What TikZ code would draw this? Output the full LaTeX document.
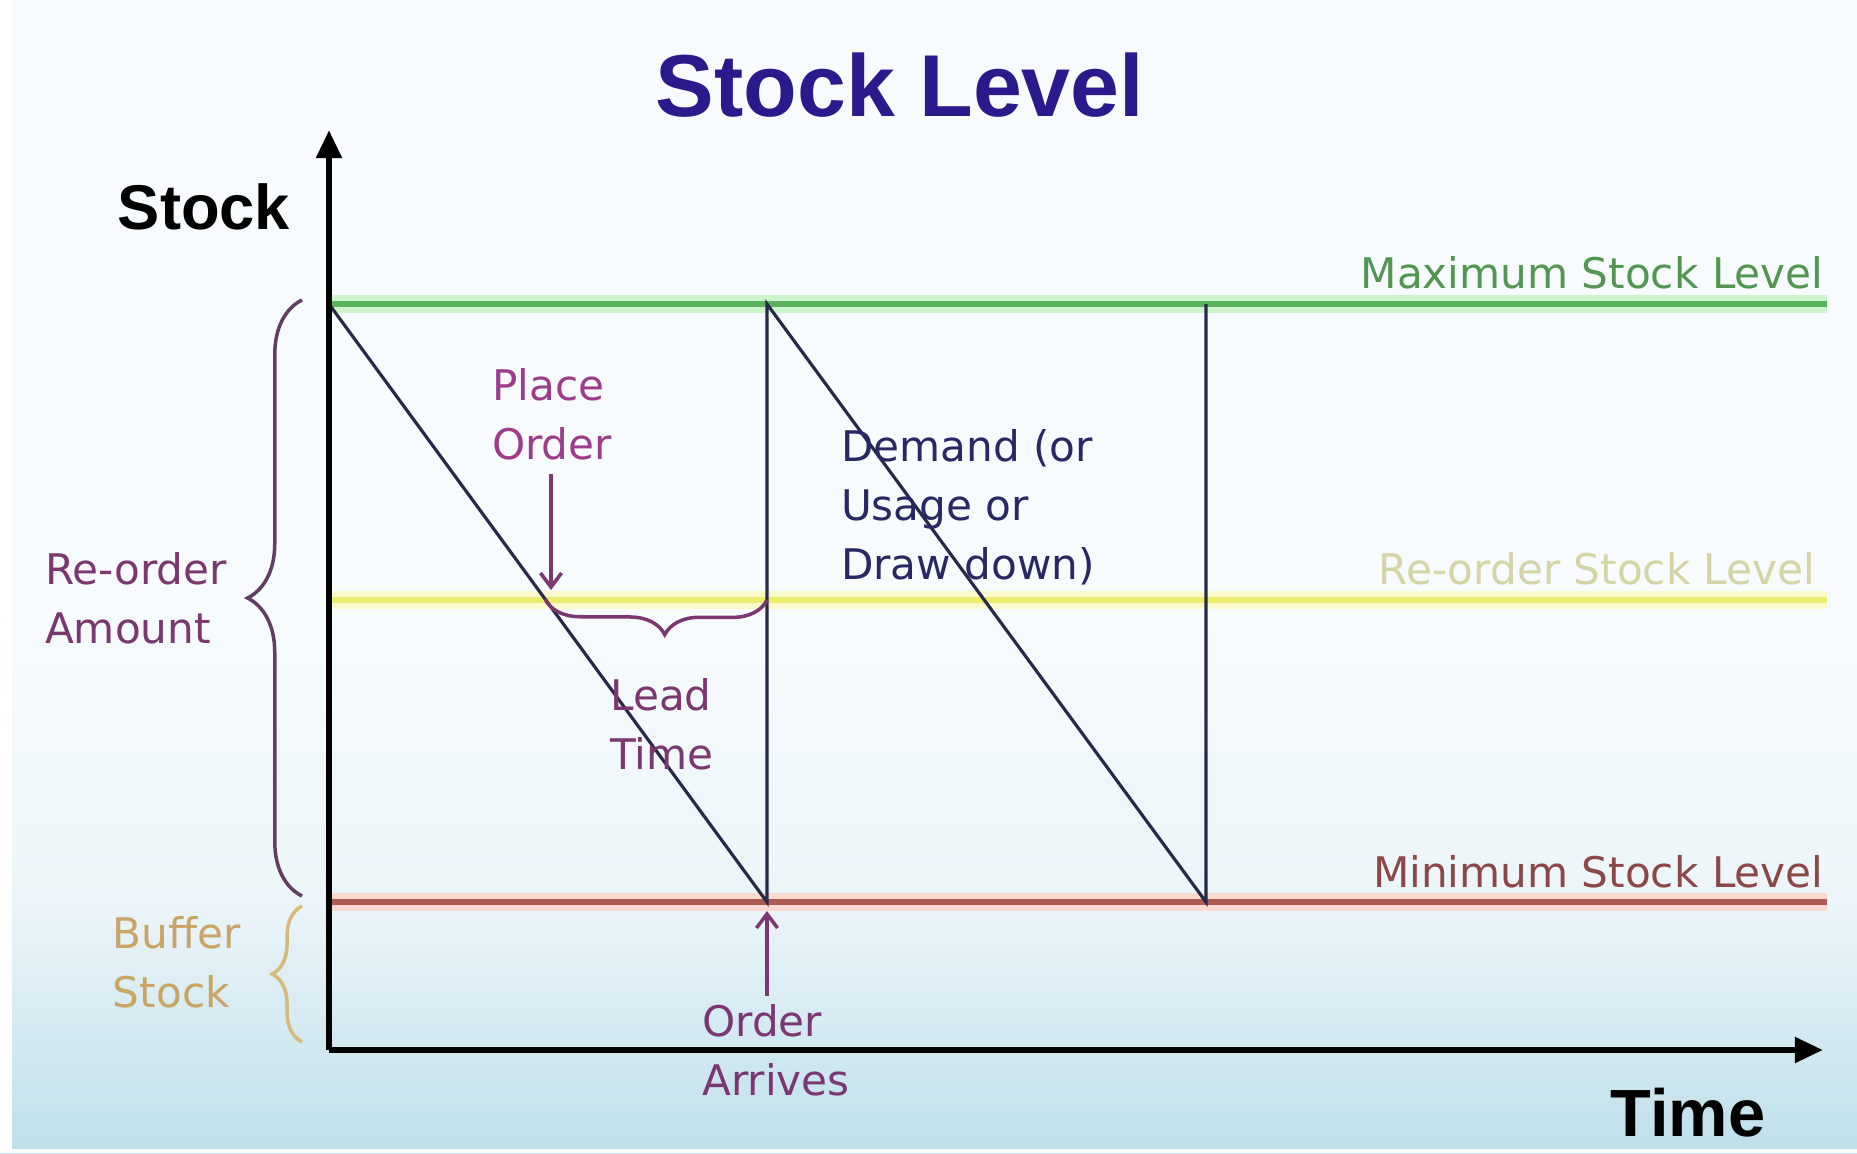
\documentclass[tikz,border=0pt]{standalone}
\usepackage{fontspec}
\setmainfont{DejaVu Sans}
\newfontfamily\headfam{Liberation Sans}
\usetikzlibrary{arrows.meta,decorations.pathreplacing,calc}
\definecolor{bgtop}{RGB}{247,251,253}
\definecolor{bgmid}{RGB}{236,245,249}
\definecolor{bgbot}{RGB}{190,223,234}
\definecolor{titleblue}{RGB}{43,26,140}
\definecolor{maxtext}{RGB}{82,150,82}
\definecolor{maxline}{RGB}{92,178,92}
\definecolor{maxglow}{RGB}{205,245,205}
\definecolor{reotext}{RGB}{212,212,165}
\definecolor{reoline}{RGB}{236,236,110}
\definecolor{reoglow}{RGB}{250,250,205}
\definecolor{mintext}{RGB}{140,72,72}
\definecolor{minline}{RGB}{172,92,82}
\definecolor{minglow}{RGB}{250,218,208}
\definecolor{placepurple}{RGB}{158,60,140}
\definecolor{darkpurple}{RGB}{122,55,112}
\definecolor{navytext}{RGB}{40,40,100}
\definecolor{buffertan}{RGB}{200,165,100}
\definecolor{bracepurple}{RGB}{98,62,98}
\definecolor{bracetan}{RGB}{215,185,120}
\definecolor{sawcol}{RGB}{40,40,72}
\tikzset{
  lbl/.style={font=\fontsize{12pt}{16.8pt}\selectfont, align=left, inner sep=0pt},
  headlbl/.style={font=\headfam\bfseries, inner sep=0pt},
  axisline/.style={line width=1.8pt, black},
  sawline/.style={line width=0.9pt, sawcol},
  glowline/.style={line width=5pt},
  levelline/.style={line width=1.7pt},
  purplearrow/.style={line width=1pt, darkpurple, -{Straight Barb[length=4pt,width=6pt]}},
}
\begin{document}
\begin{tikzpicture}[x=0.1mm,y=-0.1mm]
\useasboundingbox (0,0) rectangle (1857,1153);
% background
\fill[bgtop] (0,0) rectangle (1857,1153);
\shade[top color=bgtop, bottom color=bgmid] (0,600) rectangle (1857,900);
\shade[top color=bgmid, bottom color=bgbot] (0,900) rectangle (1857,1153);
\fill[white] (0,0) rectangle (12,1153);
\fill[white] (0,1149) rectangle (1857,1153);

% coordinates
\coordinate (O) at (329,1050);
\coordinate (Ytop) at (329,130);
\coordinate (Xend) at (1823,1050);
\coordinate (maxL) at (329,304);
\coordinate (maxR) at (1827,304);
\coordinate (reoL) at (329,600);
\coordinate (reoR) at (1827,600);
\coordinate (minL) at (329,902);
\coordinate (minR) at (1827,902);
\coordinate (t1) at (329,304);
\coordinate (b1) at (767,902);
\coordinate (t2) at (767,304);
\coordinate (b2) at (1206,902);
\coordinate (t3) at (1206,304);
\coordinate (r1) at ($(t1)!0.4933!(b1)$);
\coordinate (leadR) at (767,600);
\coordinate (poTop) at (551,474);
\coordinate (poTip) at (551,590);
\coordinate (oaBot) at (767,996);
\coordinate (oaTip) at (767,911);
\coordinate (braceTop) at (302,300);
\coordinate (braceBot) at (302,896);
\coordinate (bufTop) at (302,906);
\coordinate (bufBot) at (302,1042);

% level lines with glow
\draw[glowline, maxglow] (maxL) -- (maxR);
\draw[glowline, reoglow] (reoL) -- (reoR);
\draw[glowline, minglow] (minL) -- (minR);
\draw[levelline, maxline] (maxL) -- (maxR);
\draw[levelline, reoline] (reoL) -- (reoR);
\draw[levelline, minline] (minL) -- (minR);

% sawtooth
\draw[sawline] (t1) -- (b1) -- (t2) -- (b2) -- (t3);

% axes
\draw[axisline, -{Triangle[length=8pt,width=7pt]}] (O) -- (Ytop);
\draw[axisline, -{Triangle[length=8pt,width=7pt]}] (O) -- (Xend);

% braces
\draw[bracepurple, line width=1pt, decorate, decoration={brace, amplitude=15.5pt}] (braceBot) -- (braceTop);
\draw[bracetan, line width=1pt, decorate, decoration={brace, amplitude=8.5pt}] (bufBot) -- (bufTop);
\draw[darkpurple, line width=1pt, decorate, decoration={brace, amplitude=10pt, aspect=0.46}] (leadR) -- (r1);

% arrows
\draw[purplearrow] (poTop) -- (poTip);
\draw[purplearrow] (oaBot) -- (oaTip);

% texts
\node[headlbl, titleblue, font=\headfam\bfseries\fontsize{25pt}{30pt}\selectfont] (title) at (900,85) {Stock Level};
\node[headlbl, font=\headfam\bfseries\fontsize{18pt}{22pt}\selectfont] (ylab) at (204,207) {Stock};
\node[headlbl, font=\headfam\bfseries\fontsize{19pt}{23pt}\selectfont] (xlab) at (1688,1113) {Time};

\node[lbl, maxtext, anchor=base east] (maxlab) at (1824,288) {Maximum Stock Level};
\node[lbl, reotext, anchor=base east] (reolab) at (1816,584) {Re-order Stock Level};
\node[lbl, mintext, anchor=base east] (minlab) at (1824,887) {Minimum Stock Level};

\node[lbl, placepurple] (place) at (552,414) {Place\\Order};
\node[lbl, navytext] (demand) at (968,507) {Demand (or\\Usage or\\Draw down)};
\node[lbl, darkpurple] (lead) at (662,724) {Lead\\Time};
\node[lbl, darkpurple] (reoamt) at (136,598) {Re-order\\Amount};
\node[lbl, buffertan] (buffer) at (177,962) {Buffer\\Stock};
\node[lbl, darkpurple] (arrives) at (776,1050) {Order\\Arrives};
\end{tikzpicture}
\end{document}
